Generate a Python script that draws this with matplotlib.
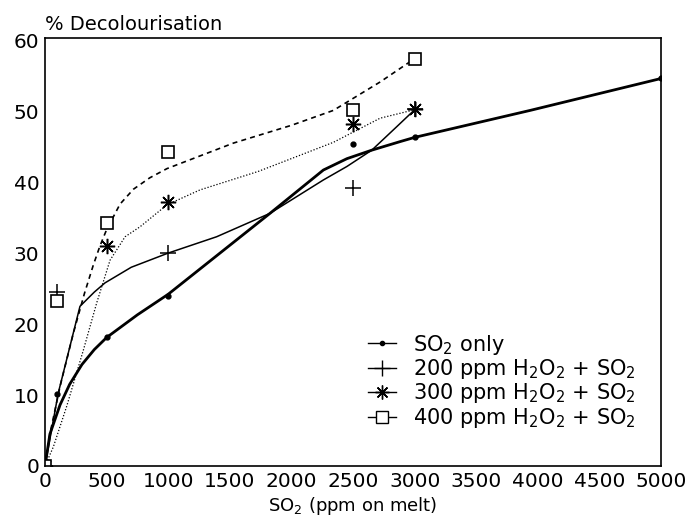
import matplotlib
matplotlib.use("Agg")
import matplotlib.pyplot as plt

plt.rcParams['font.family'] = ['DejaVu Sans']
plt.rcParams['mathtext.default'] = 'regular'

# measured points
so2_x = [0, 100, 500, 1000, 2500, 3000, 5000]
so2_y = [0, 10.2, 18.2, 24.0, 45.3, 46.3, 54.6]
h200_x = [0, 100, 1000, 2500, 3000]
h200_y = [0, 24.5, 30.0, 39.2, 50.3]
h300_x = [0, 500, 1000, 2500, 3000]
h300_y = [0, 31.0, 37.2, 48.2, 50.3]
h400_x = [0, 100, 500, 1000, 2500, 3000]
h400_y = [0, 23.2, 34.2, 44.2, 50.2, 57.4]

# fitted curves
so2_cx = [0, 40, 122, 200, 300, 400, 500, 750, 1000, 1826, 2259, 2450, 2652, 2881, 3000, 3937, 5000]
so2_cy = [0, 4.5, 8.6, 11.5, 14.3, 16.4, 18.1, 21.3, 24.2, 35.6, 41.7, 43.3, 44.5, 45.7, 46.3, 50.1, 54.6]
h200_cx = [0, 108, 284, 400, 487, 700, 1000, 1393, 1826, 2259, 2450, 2652, 2854, 3000]
h200_cy = [0, 10.3, 22.5, 24.5, 25.8, 28.0, 30.0, 32.3, 35.6, 40.3, 42.2, 44.5, 47.8, 50.2]
h300_cx = [0, 68, 176, 311, 420, 528, 650, 771, 990, 1258, 1730, 2340, 2719, 3000]
h300_cy = [0, 2.7, 8.4, 16.3, 23.0, 29.0, 32.3, 33.7, 36.8, 38.9, 41.5, 45.6, 49.0, 50.2]
h400_cx = [0, 41, 122, 230, 320, 392, 446, 500, 609, 718, 850, 990, 1530, 2000, 2340, 2719, 3000]
h400_cy = [0, 4.6, 11.2, 18.7, 24.3, 28.3, 31.0, 33.3, 36.9, 39.0, 40.6, 41.9, 45.5, 48.0, 50.1, 54.1, 57.4]

xticks = [0, 500, 1000, 1500, 2000, 2500, 3000, 3500, 4000, 4500, 5000]
yticks = [0, 10, 20, 30, 40, 50, 60]

fig = plt.figure(figsize=(6.9, 5.25), dpi=100)
ax = fig.add_axes([0.0652, 0.1124, 0.893, 0.8152])

# curves
ax.plot(so2_cx, so2_cy, color='black', lw=2.0)
ax.plot(h200_cx, h200_cy, color='black', lw=1.1)
ax.plot(h300_cx, h300_cy, color='black', lw=0.9, linestyle=(0, (1, 1.5)))
ax.plot(h400_cx, h400_cy, color='black', lw=1.2, linestyle=(0, (3, 2.5)))

# markers
ax.plot(so2_x, so2_y, linestyle='none', marker='o', ms=3.5, color='black')
ax.plot(h200_x, h200_y, linestyle='none', marker='+', ms=11, mew=1.1, color='black')
ax.plot(h300_x, h300_y, linestyle='none', marker=(8, 2, 0), ms=11, mew=1.1, color='black')
ax.plot(h400_x, h400_y, linestyle='none', marker='s', ms=9, mew=1.2,
        markerfacecolor='white', color='black')

# legend proxies
h1, = ax.plot([], [], color='black', lw=1, marker='o', ms=3)
h2, = ax.plot([], [], color='black', lw=1, marker='+', ms=11, mew=1)
h3, = ax.plot([], [], color='black', lw=1, marker=(8, 2, 0), ms=10, mew=1)
h4, = ax.plot([], [], color='black', lw=1, marker='s', ms=8, mew=1, markerfacecolor='white')
ax.legend([h1, h2, h3, h4],
          ['SO$_2$ only', '200 ppm H$_2$O$_2$ + SO$_2$',
           '300 ppm H$_2$O$_2$ + SO$_2$', '400 ppm H$_2$O$_2$ + SO$_2$'],
          loc='upper left', bbox_to_anchor=(0.508, 0.336), frameon=False,
          borderpad=0, fontsize=15, handlelength=1.3, handletextpad=0.85,
          labelspacing=0.02)

ax.set_xlim(0, 5000)
ax.set_ylim(0, 60.3)
ax.set_xticks(xticks)
ax.set_yticks(yticks)
ax.tick_params(length=0, labelsize=14.5, pad=4)
for s in ax.spines.values():
    s.set_linewidth(1.2)

ax.set_xlabel('SO$_2$ (ppm on melt)', fontsize=13, labelpad=3)
ax.text(0.0, 1.01, '% Decolourisation', transform=ax.transAxes, fontsize=14,
        ha='left', va='bottom')

fig.savefig('out.png', dpi=100)
